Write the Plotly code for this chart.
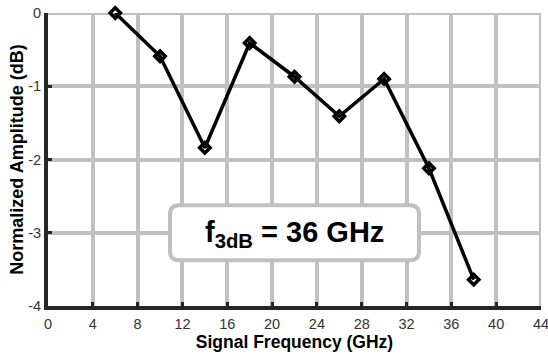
import plotly.graph_objects as go

freq_ghz = [6, 10, 14, 18, 22, 26, 30, 34, 38]
amp_db = [0.0, -0.59, -1.84, -0.41, -0.87, -1.41, -0.90, -2.12, -3.64]
x_ticks = [0, 4, 8, 12, 16, 20, 24, 28, 32, 36, 40, 44]
y_ticks = [0, -1, -2, -3, -4]
label_text = "f<sub>3dB</sub> = 36 GHz"

grid_color = "#c0c0c0"
axis_color = "#262626"
font_family = "Liberation Sans, Arial, sans-serif"

fig = go.Figure()

# edge grid lines that plotly omits at the range limits
fig.add_shape(type="line", xref="x", yref="y", x0=x_ticks[0], x1=x_ticks[-1], y0=y_ticks[0], y1=y_ticks[0],
              line=dict(color=grid_color, width=4), layer="below")
fig.add_shape(type="line", xref="x", yref="y", x0=x_ticks[-1], x1=x_ticks[-1], y0=y_ticks[-1], y1=y_ticks[0],
              line=dict(color=grid_color, width=4), layer="below")

fig.add_trace(go.Scatter(
    x=freq_ghz, y=amp_db, mode="lines+markers",
    line=dict(color="black", width=3.5),
    marker=dict(symbol="diamond-open", size=8, color="black", line=dict(width=3.5, color="black")),
    cliponaxis=False, showlegend=False,
))

fig.update_layout(
    width=548, height=362,
    margin=dict(l=48, r=7, t=13, b=56, autoexpand=False),
    paper_bgcolor="white", plot_bgcolor="white",
    font=dict(family=font_family, size=14, color="#333333"),
    xaxis=dict(
        range=[0, 44], tickvals=x_ticks, ticktext=[str(v) for v in x_ticks],
        showgrid=True, gridcolor=grid_color, gridwidth=4,
        showline=True, linecolor=axis_color, linewidth=4,
        ticks="inside", ticklen=4, tickwidth=3, tickcolor=axis_color,
        zeroline=False, tickfont=dict(size=14.5), ticklabeloverflow="allow", automargin=False,
        ticklabelstandoff=2,
        title=dict(text="<b>Signal Frequency (GHz)</b>", font=dict(size=17.5, color="black"), standoff=4),
    ),
    yaxis=dict(
        range=[-4, 0], tickvals=y_ticks, ticktext=[str(v) for v in y_ticks],
        showgrid=True, gridcolor=grid_color, gridwidth=4,
        showline=True, linecolor=axis_color, linewidth=4,
        ticks="inside", ticklen=4, tickwidth=3, tickcolor=axis_color,
        zeroline=False, tickfont=dict(size=14.5), ticklabeloverflow="allow", automargin=False,
        title=dict(text="<b>Normalized Amplitude (dB)</b>", font=dict(size=18, color="black"), standoff=1),
    ),
)

# rounded label box (pixel-sized, anchored at data point)
w, h, r = 249, 55, 9
hw, hh = w / 2, h / 2
path = (
    f"M {-hw + r},{hh} L {hw - r},{hh} Q {hw},{hh} {hw},{hh - r} "
    f"L {hw},{-hh + r} Q {hw},{-hh} {hw - r},{-hh} "
    f"L {-hw + r},{-hh} Q {-hw},{-hh} {-hw},{-hh + r} "
    f"L {-hw},{hh - r} Q {-hw},{hh} {-hw + r},{hh} Z"
)
fig.add_shape(type="path", xref="x", yref="y", xsizemode="pixel", ysizemode="pixel",
              xanchor=22, yanchor=-3, path=path,
              line=dict(color=grid_color, width=4), fillcolor="white", layer="above")
fig.add_annotation(x=22, y=-3, xref="x", yref="y", text=f"<b>{label_text}</b>",
                   showarrow=False, yshift=-1, font=dict(size=29, color="black", family=font_family))

fig.write_html("out.html")
